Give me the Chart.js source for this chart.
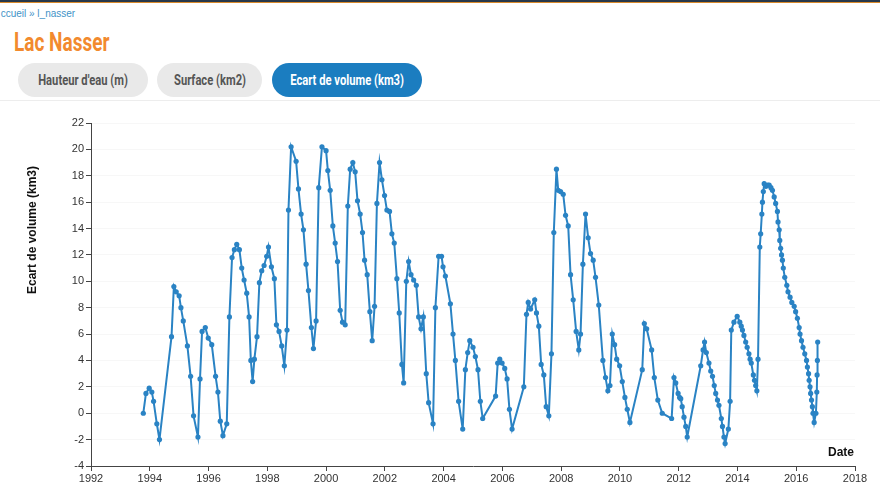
<!DOCTYPE html>
<html>
<head>
<meta charset="utf-8">
<script src="https://cdn.jsdelivr.net/npm/chart.js@4"></script>
<style>
  body { margin: 0; width: 880px; height: 484px; overflow: hidden; background: #fff; position: relative;
         font-family: "Liberation Sans", Arial, sans-serif; }
  #topbar { position: absolute; left: 0; top: 0; width: 880px; height: 2px; background: #27384a; border-bottom: 1px solid #d98a2b; }
  #crumb { position: absolute; left: -6px; top: 8px; font-size: 10px; color: #3f93c7; white-space: nowrap; }
  #title { position: absolute; left: 14px; top: 28px; font-family: Roboto, "Liberation Sans", sans-serif; white-space: nowrap;
           font-weight: bold; font-size: 25px; color: #f28a2e; transform: scaleX(0.76); transform-origin: left center; }
  .tab { position: absolute; top: 63px; height: 34px; line-height: 34px; border-radius: 17px; text-align: center;
         white-space: nowrap; background: #e9e9e9; color: #555; }
  .tab span { display: inline-block; font-family: Roboto, "Liberation Sans", sans-serif; font-weight: bold; font-size: 14px;
              transform: scaleX(0.8); }
  #tab3 { background: #1b7dc0; color: #fff; }
  #sep { position: absolute; left: 0; top: 100px; width: 880px; height: 1px; background: #ededed; }
  #chartBox { position: absolute; left: 0; top: 105px; }
</style>
</head>
<body>
<div id="topbar"></div>
<div id="crumb"><span style="color:#fff">A</span>ccueil &raquo; l_nasser</div>
<div id="title">Lac Nasser</div>
<div class="tab" style="left:18px; width:130px;"><span>Hauteur d'eau (m)</span></div>
<div class="tab" style="left:157px; width:105px;"><span>Surface (km2)</span></div>
<div class="tab" id="tab3" style="left:272px; width:150px;"><span>Ecart de volume (km3)</span></div>
<div id="sep"></div>
<div id="chartBox"><canvas id="volumeChart" width="880" height="379"></canvas></div>
<script>
// Lac Nasser - ecart de volume (km3), dates as decimal years
const dates = [
  1993.78, 1993.87, 1993.98, 1994.07, 1994.13, 1994.24, 1994.33, 1994.74, 1994.82, 1994.90,
  1995.00, 1995.06, 1995.14, 1995.28, 1995.39, 1995.49, 1995.64, 1995.71, 1995.78, 1995.89,
  1995.99, 1996.11, 1996.24, 1996.32, 1996.40, 1996.49, 1996.62, 1996.71, 1996.80, 1996.88,
  1996.96, 1997.05, 1997.13, 1997.21, 1997.30, 1997.38, 1997.44, 1997.50, 1997.56, 1997.65,
  1997.73, 1997.81, 1997.89, 1997.98, 1998.04, 1998.14, 1998.24, 1998.31, 1998.40, 1998.49,
  1998.58, 1998.67, 1998.72, 1998.81, 1998.98, 1999.06, 1999.15, 1999.23, 1999.32, 1999.40,
  1999.50, 1999.57, 1999.66, 1999.75, 1999.86, 2000.00, 2000.06, 2000.14, 2000.23, 2000.31,
  2000.39, 2000.48, 2000.56, 2000.65, 2000.74, 2000.82, 2000.91, 2000.99, 2001.07, 2001.16,
  2001.24, 2001.31, 2001.40, 2001.49, 2001.57, 2001.65, 2001.73, 2001.82, 2001.90, 2001.99,
  2002.07, 2002.16, 2002.24, 2002.32, 2002.41, 2002.49, 2002.58, 2002.64, 2002.73, 2002.81,
  2002.89, 2002.98, 2003.07, 2003.15, 2003.23, 2003.31, 2003.41, 2003.49, 2003.64, 2003.72,
  2003.83, 2003.93, 2003.98, 2004.06, 2004.23, 2004.32, 2004.40, 2004.51, 2004.65, 2004.74,
  2004.82, 2004.89, 2005.00, 2005.08, 2005.17, 2005.25, 2005.33, 2005.77, 2005.84, 2005.91,
  2005.99, 2006.08, 2006.16, 2006.24, 2006.33, 2006.73, 2006.82, 2006.88, 2006.96, 2007.10,
  2007.16, 2007.24, 2007.32, 2007.41, 2007.49, 2007.58, 2007.67, 2007.75, 2007.84, 2007.90,
  2007.98, 2008.07, 2008.15, 2008.24, 2008.32, 2008.41, 2008.51, 2008.60, 2008.66, 2008.74,
  2008.83, 2008.92, 2009.00, 2009.09, 2009.17, 2009.28, 2009.42, 2009.51, 2009.59, 2009.66,
  2009.74, 2009.82, 2009.89, 2009.99, 2010.08, 2010.17, 2010.25, 2010.34, 2010.76, 2010.83,
  2010.91, 2011.08, 2011.17, 2011.29, 2011.44, 2011.76, 2011.84, 2011.90, 2011.98, 2012.03,
  2012.07, 2012.12, 2012.18, 2012.24, 2012.29, 2012.75, 2012.83, 2012.88, 2012.94, 2013.03,
  2013.09, 2013.15, 2013.21, 2013.26, 2013.32, 2013.37, 2013.45, 2013.49, 2013.54, 2013.58,
  2013.69, 2013.75, 2013.79, 2013.88, 2013.99, 2014.08, 2014.13, 2014.17, 2014.22, 2014.28,
  2014.33, 2014.39, 2014.43, 2014.47, 2014.54, 2014.58, 2014.62, 2014.66, 2014.70, 2014.76,
  2014.79, 2014.83, 2014.85, 2014.88, 2014.91, 2014.97, 2015.03, 2015.08, 2015.14, 2015.19,
  2015.25, 2015.30, 2015.36, 2015.38, 2015.42, 2015.44, 2015.47, 2015.50, 2015.53, 2015.56,
  2015.61, 2015.68, 2015.72, 2015.79, 2015.85, 2015.93, 2015.98, 2016.04, 2016.10, 2016.13,
  2016.18, 2016.23, 2016.29, 2016.35, 2016.38, 2016.42, 2016.44, 2016.47, 2016.49, 2016.52,
  2016.55, 2016.57, 2016.61, 2016.67, 2016.70, 2016.71, 2016.72, 2016.73
];
const volumes = [
  0.0, 1.5, 1.9, 1.6, 0.9, -0.8, -2.0, 5.8, 9.6, 9.2,
  8.9, 8.0, 7.0, 5.1, 2.8, -0.2, -1.8, 2.6, 6.2, 6.5,
  5.7, 5.2, 2.8, 1.6, -0.6, -1.7, -0.8, 7.3, 11.8, 12.4,
  12.8, 12.4, 11.0, 10.1, 9.1, 7.3, 4.0, 2.4, 4.1, 5.8,
  9.9, 10.8, 11.2, 11.9, 12.6, 11.1, 10.2, 6.7, 6.2, 5.1,
  3.6, 6.3, 15.4, 20.2, 19.1, 17.0, 15.1, 13.9, 11.3, 9.3,
  6.5, 4.9, 7.0, 17.1, 20.2, 19.9, 18.4, 16.9, 14.2, 12.9,
  11.5, 7.8, 6.9, 6.7, 15.7, 18.5, 19.0, 18.3, 16.1, 15.1,
  13.7, 11.6, 10.5, 7.7, 5.5, 8.1, 15.9, 19.0, 17.7, 16.5,
  15.4, 15.3, 13.6, 12.9, 10.2, 7.6, 3.7, 2.3, 10.0, 11.5,
  10.5, 10.1, 9.7, 7.3, 6.4, 7.3, 3.0, 0.8, -0.8, 8.0,
  11.9, 11.9, 11.1, 10.4, 8.3, 6.0, 4.0, 0.9, -1.2, 3.3,
  4.6, 5.5, 5.0, 4.3, 3.3, 0.9, -0.4, 1.3, 3.8, 4.1,
  3.8, 3.4, 2.6, 0.3, -1.2, 2.0, 7.5, 8.4, 7.9, 8.6,
  7.6, 6.6, 3.7, 2.9, 0.5, -0.2, 4.5, 13.7, 18.5, 16.9,
  16.8, 16.6, 15.0, 14.2, 10.5, 8.6, 6.2, 4.8, 6.0, 11.3,
  15.1, 13.3, 12.1, 11.6, 10.3, 8.2, 4.0, 2.7, 1.7, 2.1,
  6.0, 5.2, 4.1, 3.6, 2.4, 1.2, 0.3, -0.7, 3.3, 6.8,
  6.4, 4.8, 2.7, 1.0, 0.0, -0.4, 2.7, 2.3, 1.5, 1.2,
  1.1, 0.5, -0.3, -1.0, -1.8, 3.6, 4.8, 5.4, 4.6, 3.8,
  3.2, 2.8, 2.1, 1.5, 1.0, 0.6, -0.4, -1.0, -1.8, -2.3,
  -1.2, 0.9, 6.3, 6.9, 7.35, 6.9, 6.6, 6.3, 5.9, 5.4,
  5.0, 4.5, 4.1, 3.8, 2.9, 2.5, 2.1, 1.7, 4.1, 12.6,
  13.6, 15.1, 16.0, 16.8, 17.4, 17.2, 17.3, 17.3, 17.1, 16.9,
  16.4, 15.9, 15.3, 14.5, 13.9, 13.1, 12.5, 12.0, 11.6, 11.0,
  10.3, 9.7, 9.2, 8.8, 8.4, 8.1, 7.7, 7.2, 6.5, 6.0,
  5.5, 5.0, 4.5, 4.0, 3.5, 3.0, 2.5, 2.0, 1.5, 1.0,
  0.5, 0.0, -0.7, 0.0, 1.6, 2.9, 4.0, 5.4
];
const yearTicks = [1992, 1994, 1996, 1998, 2000, 2002, 2004, 2006, 2008, 2010, 2012, 2014, 2016, 2018];
const volumeTicks = [-4, -2, 0, 2, 4, 6, 8, 10, 12, 14, 16, 18, 20, 22];

const yTitle = 'Ecart de volume (km3)';
const xTitle = 'Date';

// draws the two axis titles where the original page puts them
const axisTitles = {
  id: 'axisTitles',
  afterDraw(chart) {
    const { ctx, chartArea } = chart;
    ctx.save();
    ctx.fillStyle = '#111';
    ctx.font = 'bold 12px "Liberation Sans", Arial, sans-serif';
    ctx.textAlign = 'center';
    ctx.textBaseline = 'middle';
    ctx.translate(chartArea.left - 58, chartArea.top + 107);
    ctx.rotate(-Math.PI / 2);
    ctx.fillText(yTitle, 0, 0);
    ctx.restore();

    ctx.save();
    ctx.fillStyle = '#111';
    ctx.font = 'bold 12px "Liberation Sans", Arial, sans-serif';
    ctx.textAlign = 'right';
    ctx.textBaseline = 'middle';
    ctx.fillText(xTitle, chartArea.right - 1, chartArea.bottom - 13);
    ctx.restore();
  }
};

const points = dates.map((d, i) => ({ x: d, y: volumes[i] }));

const ctx = document.getElementById('volumeChart').getContext('2d');
const volumeChart = new Chart(ctx, {
  type: 'line',
  data: {
    datasets: [{
      data: points,
      borderColor: '#2a83c4',
      backgroundColor: '#2a83c4',
      borderWidth: 2,
      pointRadius: 2.6,
      pointBorderWidth: 0,
      tension: 0
    }]
  },
  options: {
    responsive: false,
    animation: false,
    devicePixelRatio: 1,
    layout: { padding: { top: 18, right: 25, left: 0, bottom: 0 } },
    plugins: { legend: { display: false }, tooltip: { enabled: false } },
    scales: {
      x: {
        type: 'linear',
        min: 1992,
        max: 2018,
        afterBuildTicks: (axis) => { axis.ticks = yearTicks.map(v => ({ value: v })); },
        afterFit: (axis) => { axis.height = 18; },
        ticks: {
          callback: (v) => String(v),
          color: '#333',
          font: { family: '"Liberation Sans", Arial, sans-serif', size: 11 },
          padding: 1,
          maxRotation: 0
        },
        grid: { drawOnChartArea: false, tickLength: 5, color: '#444' },
        border: { color: '#444', width: 1 }
      },
      y: {
        min: -4,
        max: 22,
        afterBuildTicks: (axis) => { axis.ticks = volumeTicks.map(v => ({ value: v })); },
        afterFit: (axis) => { axis.width = 91; },
        ticks: {
          color: '#333',
          font: { family: '"Liberation Sans", Arial, sans-serif', size: 11 },
          padding: 2
        },
        grid: {
          color: 'rgba(0,0,0,0.03)',
          tickColor: '#444',
          tickLength: 5
        },
        border: { color: '#444', width: 1 }
      }
    }
  },
  plugins: [axisTitles]
});
</script>
</body>
</html>
